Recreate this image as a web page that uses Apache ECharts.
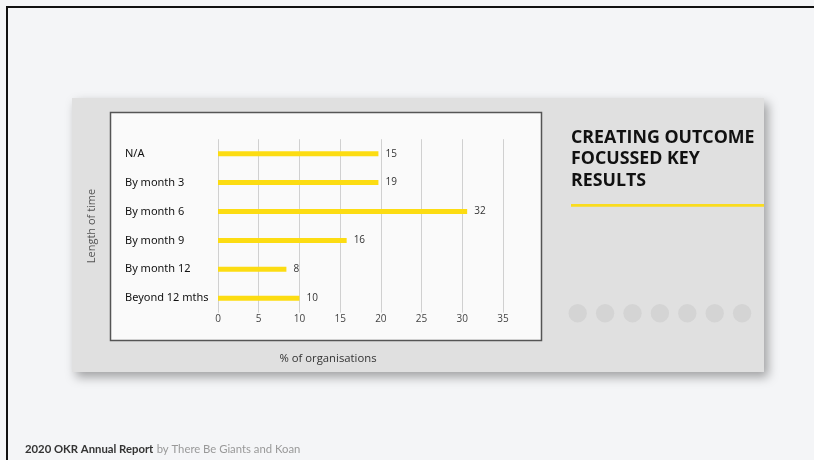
<!DOCTYPE html>
<html>
<head>
<meta charset="utf-8">
<script src="https://cdn.jsdelivr.net/npm/echarts@6/dist/echarts.min.js"></script>
<style>
  html, body { margin: 0; padding: 0; background: #f4f5f7; }
  #main { width: 814px; height: 460px; }
</style>
</head>
<body>
<div id="main"></div>
<script>
// categories, top to bottom
var categories = ['N/A', 'By month 3', 'By month 6', 'By month 9', 'By month 12', 'Beyond 12 mths'];
// bar lengths as drawn in the picture
var barValues = [19.7, 19.7, 30.6, 15.8, 8.4, 10];
// numbers printed next to each bar
var labelValues = [15, 19, 32, 16, 8, 10];
var xTicks = [0, 5, 10, 15, 20, 25, 30, 35];

var titleLines = ['CREATING OUTCOME', 'FOCUSSED KEY', 'RESULTS'];
var dotCount = 7;

var dom = document.getElementById('main');
var myChart = echarts.init(dom, null, { renderer: 'canvas' });

var font = '"Open Sans", "Noto Sans", sans-serif';

var graphics = [
    // outer frame, only top and left edges show
    { type: 'rect', z: -10, shape: { x: 6, y: 6, width: 2, height: 460 }, style: { fill: '#111' } },
    { type: 'rect', z: -10, shape: { x: 6, y: 6, width: 814, height: 2 }, style: { fill: '#111' } },
    // card
    { type: 'rect', z: -9, shape: { x: 72, y: 98, width: 692, height: 274 },
      style: { fill: '#e0e0e0', shadowBlur: 10, shadowOffsetX: 4, shadowOffsetY: 5, shadowColor: 'rgba(0,0,0,0.35)' } },
    // inner chart box
    { type: 'rect', z: -8, shape: { x: 110.5, y: 112.5, width: 431, height: 228 },
      style: { fill: '#fafafa', stroke: '#555', lineWidth: 1.5 } },
    // axis names
    { type: 'text', z: 3, x: 92, y: 226, rotation: Math.PI / 2,
      style: { text: 'Length of time', font: '11px ' + font, fill: '#555', align: 'center', verticalAlign: 'middle' } },
    { type: 'text', z: 3, x: 328, y: 359,
      style: { text: '% of organisations', font: '11.3px ' + font, fill: '#333', align: 'center', verticalAlign: 'middle' } },
    // yellow rule
    { type: 'rect', z: 3, shape: { x: 571, y: 204, width: 193, height: 2.7 },
      style: { fill: '#fadc1e' } },
    // footer
    { type: 'text', z: 3, x: 25, y: 449,
      style: {
        text: '{b|2020 OKR Annual Report} {l|by There Be Giants and Koan}',
        verticalAlign: 'middle',
        rich: {
          b: { font: 'bold 11.3px Lato, Inter, sans-serif', fill: '#333' },
          l: { font: '11.3px Lato, Inter, sans-serif', fill: '#999' }
        }
      } }
];

titleLines.forEach(function(t, i) {
    graphics.push({ type: 'text', z: 3, x: 571, y: 128.5 + i * 21.7,
        style: { text: t, font: 'bold 17.8px ' + font, fill: '#111', verticalAlign: 'top' } });
});

for (var i = 0; i < dotCount; i++) {
    graphics.push({ type: 'circle', z: 3, shape: { cx: 577.7 + i * 27.4, cy: 313.3, r: 9.2 },
        style: { fill: '#d4d4d4' } });
}

var option = {
    backgroundColor: '#f4f5f7',
    animation: false,
    graphic: graphics,
    grid: { left: 218, right: 814 - 503, top: 139.2, bottom: 460 - 312.7, containLabel: false },
    xAxis: {
        type: 'value',
        z: 5,
        min: xTicks[0],
        max: xTicks[xTicks.length - 1],
        interval: 5,
        axisLine: { show: false },
        axisTick: { show: false },
        axisLabel: { color: '#444', fontSize: 10, fontFamily: font, margin: 1 },
        splitLine: { show: true, lineStyle: { color: '#d0d0d0', width: 1 } }
    },
    yAxis: {
        type: 'category',
        z: 5,
        inverse: true,
        data: categories,
        axisLine: { show: false },
        axisTick: { show: false },
        splitLine: { show: false },
        axisLabel: { color: '#111', fontSize: 11, fontFamily: '"Noto Sans", sans-serif', align: 'left', margin: 93 }
    },
    series: [{
        type: 'bar',
        data: barValues,
        barWidth: 5,
        z: 6,
        itemStyle: { color: '#fcdc12' },
        label: {
            show: true,
            position: 'right',
            distance: 7,
            color: '#333',
            fontSize: 10,
            fontFamily: font,
            formatter: function(p) { return labelValues[p.dataIndex]; }
        }
    }]
};
myChart.setOption(option, true);
</script>
</body>
</html>
